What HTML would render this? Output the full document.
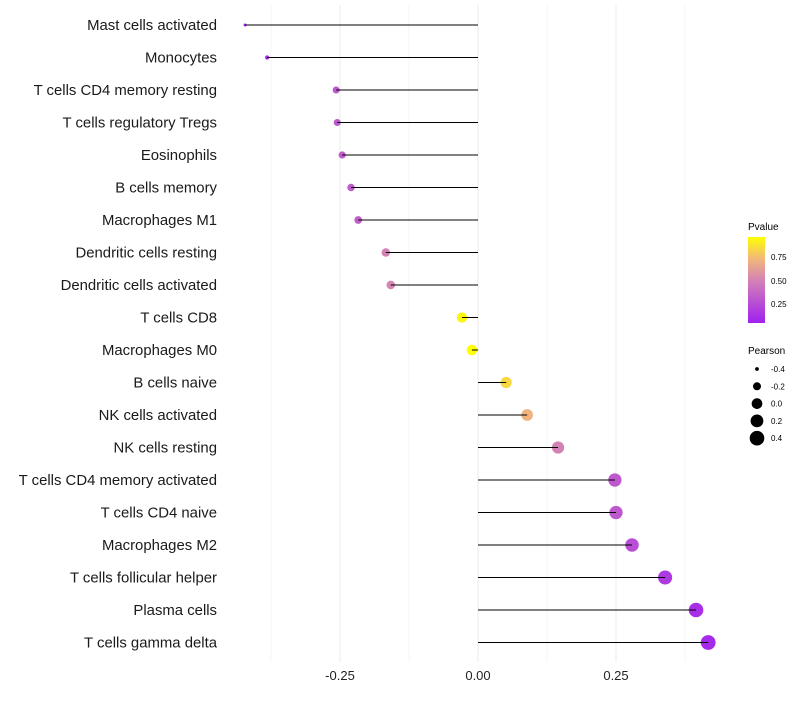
<!DOCTYPE html>
<html><head><meta charset="utf-8"><style>
body{margin:0;background:#fff;font-family:"Liberation Sans",sans-serif}
</style></head><body>
<svg id="chart" width="800" height="700" xmlns="http://www.w3.org/2000/svg">
<defs><linearGradient id="pg" x1="0" y1="1" x2="0" y2="0">
<stop offset="0" stop-color="#a020f0"/><stop offset="0.5" stop-color="#d483b4"/><stop offset="0.75" stop-color="#f2b87a"/><stop offset="1" stop-color="#ffff00"/></linearGradient></defs>
<g id="grid"></g><g id="pts"></g><g id="marks"></g><g id="labels"></g>
<g>
<text x="748" y="230" font-size="10">Pvalue</text>
<rect x="748" y="237" width="17" height="86" fill="url(#pg)"/>
<text x="771" y="260" font-size="8">0.75</text>
<text x="771" y="284" font-size="8">0.50</text>
<text x="771" y="307" font-size="8">0.25</text>
</g>
<g id="sizeleg">
<text x="748" y="354" font-size="10">Pearson</text>
</g>
</svg>
<script>
const cells=["Mast cells activated","Monocytes","T cells CD4 memory resting","T cells regulatory  Tregs ","Eosinophils","B cells memory","Macrophages M1","Dendritic cells resting","Dendritic cells activated","T cells CD8","Macrophages M0","B cells naive","NK cells activated","NK cells resting","T cells CD4 memory activated","T cells CD4 naive","Macrophages M2","T cells follicular helper","Plasma cells","T cells gamma delta"];
const pearson=[-0.422,-0.382,-0.257,-0.255,-0.246,-0.230,-0.217,-0.167,-0.158,-0.029,-0.011,0.051,0.089,0.145,0.248,0.250,0.279,0.339,0.395,0.417];
const pvalue=[0.04,0.07,0.3,0.3,0.32,0.32,0.33,0.5,0.52,0.95,0.98,0.85,0.72,0.5,0.3,0.3,0.25,0.15,0.1,0.08];
const xTicks=[-0.25,0,0.25];
const xTickLabels=["-0.25","0.00","0.25"];
const sizeLegend=[-0.4,-0.2,0,0.2,0.4];
const sizeLegendLabels=["-0.4","-0.2","0.0","0.2","0.4"];
const NS="http://www.w3.org/2000/svg";
const x=v=>478+v*552;
const y=i=>25+i*32.5;
const r=v=>Math.sqrt(2.25+(v+0.42)/0.84*52.5);
function col(p){const st=[[0,[160,32,240]],[0.5,[212,131,180]],[0.75,[242,184,122]],[1,[255,255,0]]];
 let t=Math.max(0,Math.min(1,(p-0.03)/0.95));
 for(let k=1;k<st.length;k++){if(t<=st[k][0]){const a=st[k-1],b=st[k],f=(t-a[0])/(b[0]-a[0]);return"rgb("+a[1].map((c,j)=>Math.round(c+(b[1][j]-c)*f)).join(",")+")";}}
 return"rgb(255,255,0)";}
function mk(tag,at,parent){const e=document.createElementNS(NS,tag);for(const k in at)e.setAttribute(k,at[k]);parent.appendChild(e);return e;}
const grid=document.getElementById('grid'),marks=document.getElementById('marks'),pts=document.getElementById('pts'),labels=document.getElementById('labels');
for(let v=-0.375;v<=0.4;v+=0.125){const g=mk('line',{x1:x(v),x2:x(v),y1:5,y2:662,stroke:Math.abs(v*4-Math.round(v*4))<1e-6?'#ebebeb':'#f4f4f4','stroke-width':1},grid);

}
xTicks.forEach((v,i)=>{const t=mk('text',{x:x(v),y:680,'font-size':13,'text-anchor':'middle',fill:'#222'},labels);t.textContent=xTickLabels[i];

});
cells.forEach((c,i)=>{
 const t=mk('text',{x:217,y:y(i)+5,'font-size':14.9,'text-anchor':'end',fill:'#1a1a1a','xml:space':'preserve'},labels);t.textContent=c;
 
 
 const p=mk('circle',{cx:x(pearson[i]),cy:y(i),r:r(pearson[i]),fill:col(pvalue[i])},pts);
 
 
 const l=mk('line',{x1:x(0),x2:x(pearson[i]),y1:y(i),y2:y(i),stroke:'#000','stroke-width':1},marks);
 
 
});
const sl=document.getElementById('sizeleg');
sizeLegend.forEach((v,i)=>{const yy=369+i*17.3;
 const c=mk('circle',{cx:757,cy:yy,r:r(v),fill:'#000'},sl);
 
 
 const t=mk('text',{x:771,y:yy+3,'font-size':8},sl);t.textContent=sizeLegendLabels[i];
 
 });
</script>
</body></html>
